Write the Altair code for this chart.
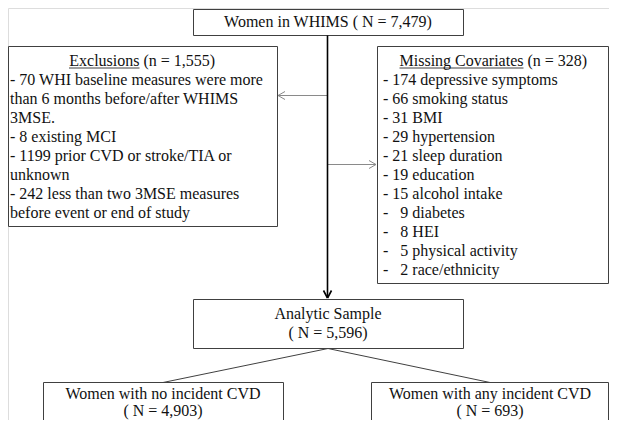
import altair as alt
import pandas as pd

# ---- content ----
top_text = ["Women in WHIMS ( N = 7,479)"]
excl_title = "Exclusions"
excl_count = "(n = 1,555)"
excl_lines = [
    "- 70 WHI baseline measures were more",
    "than 6 months before/after WHIMS",
    "3MSE.",
    "- 8 existing MCI",
    "- 1199 prior CVD or stroke/TIA or",
    "unknown",
    "- 242 less than two 3MSE measures",
    "before event or end of study",
]
miss_title = "Missing Covariates"
miss_count = "(n = 328)"
NB = "\u00a0"
miss_lines = [
    "- 174 depressive symptoms",
    "- 66 smoking status",
    "- 31 BMI",
    "- 29 hypertension",
    "- 21 sleep duration",
    "- 19 education",
    "- 15 alcohol intake",
    "-" + NB * 3 + "9 diabetes",
    "-" + NB * 3 + "8 HEI",
    "-" + NB * 3 + "5 physical activity",
    "-" + NB * 3 + "2 race/ethnicity",
]
analytic_lines = ["Analytic Sample", "( N = 5,596)"]
no_cvd_lines = ["Women with no incident CVD", "( N = 4,903)"]
any_cvd_lines = ["Women with any incident CVD", "( N = 693)"]

# ---- layout (page pixel coordinates) ----
FONT = "Liberation Serif, Times New Roman, DejaVu Serif, serif"
FS = 16
LH = 19

boxes = pd.DataFrame([
    dict(x=193.5, x2=463.5, y=9.5, y2=35.5),
    dict(x=8.5, x2=277.5, y=46.5, y2=226.5),
    dict(x=377.5, x2=608.5, y=46.5, y2=283.5),
    dict(x=193.5, x2=463.5, y=299.5, y2=348.5),
    dict(x=43.5, x2=283.5, y=382.5, y2=440),
    dict(x=371.5, x2=608.5, y=382.5, y2=440),
])

gray_rules = pd.DataFrame([
    dict(x=327, y=95.5, x2=278, y2=95.5),
    dict(x=285, y=91.5, x2=278, y2=95.5),
    dict(x=285, y=99.5, x2=278, y2=95.5),
    dict(x=327, y=164.5, x2=376, y2=164.5),
    dict(x=369, y=160.5, x2=376, y2=164.5),
    dict(x=369, y=168.5, x2=376, y2=164.5),
])
dark_rules = pd.DataFrame([
    dict(x=328, y=348.5, x2=163, y2=382.5),
    dict(x=328, y=348.5, x2=490, y2=382.5),
    dict(x=69, y=68, x2=139.5, y2=68),
    dict(x=399.5, y=68, x2=523.5, y2=68),
])
black_rules = pd.DataFrame([
    dict(x=327.5, y=35.5, x2=327.5, y2=298),
    dict(x=323.5, y=290.5, x2=327.5, y2=298),
    dict(x=331.5, y=290.5, x2=327.5, y2=298),
])

center_txt = []
center_txt.append(dict(x=328, y=22, t=top_text[0]))
for i, s in enumerate(analytic_lines):
    center_txt.append(dict(x=328, y=314 + i * LH, t=s))
for i, s in enumerate(no_cvd_lines):
    center_txt.append(dict(x=163, y=394 + i * 17, t=s))
for i, s in enumerate(any_cvd_lines):
    center_txt.append(dict(x=490, y=394 + i * 17, t=s))
center_txt = pd.DataFrame(center_txt)

left_txt = []
left_txt.append(dict(x=143.5, y=61, t=excl_count))
left_txt.append(dict(x=527.5, y=61, t=miss_count))
for i, s in enumerate(excl_lines):
    left_txt.append(dict(x=10, y=80 + i * LH, t=s))
for i, s in enumerate(miss_lines):
    left_txt.append(dict(x=383, y=80 + i * LH, t=s))
left_txt = pd.DataFrame(left_txt)

right_txt = pd.DataFrame([
    dict(x=139.5, y=61, t=excl_title),
    dict(x=523.5, y=61, t=miss_title),
])

X = alt.Scale(domain=[8, 609], nice=False, zero=False)
Y = alt.Scale(domain=[8, 420], nice=False, zero=False, reverse=True)
noax = None


def xy(extra=True):
    enc = dict(
        x=alt.X("x:Q", scale=X, axis=noax),
        y=alt.Y("y:Q", scale=Y, axis=noax),
    )
    if extra:
        enc["x2"] = "x2:Q"
        enc["y2"] = "y2:Q"
    return enc


rects = alt.Chart(boxes).mark_rect(fill="white", stroke="#404040", strokeWidth=1, clip=False).encode(**xy())
r_gray = alt.Chart(gray_rules).mark_rule(color="#8a8a8a", strokeWidth=1).encode(**xy())
r_dark = alt.Chart(dark_rules).mark_rule(color="#404040", strokeWidth=1).encode(**xy())
r_black = alt.Chart(black_rules).mark_rule(color="#000000", strokeWidth=1.6).encode(**xy())


def txt(df, align):
    return alt.Chart(df).mark_text(
        font=FONT, fontSize=FS, align=align, baseline="middle", color="#111111"
    ).encode(x=alt.X("x:Q", scale=X, axis=noax), y=alt.Y("y:Q", scale=Y, axis=noax), text="t:N")


chart = alt.layer(
    rects, r_gray, r_dark, r_black,
    txt(center_txt, "center"), txt(left_txt, "left"), txt(right_txt, "right"),
).properties(
    width=601, height=412, padding=0, autosize=alt.AutoSizeParams(type="none")
).configure_view(stroke=None).configure(background="white")

chart.save("out.html", embed_options={"renderer": "svg", "actions": False})
